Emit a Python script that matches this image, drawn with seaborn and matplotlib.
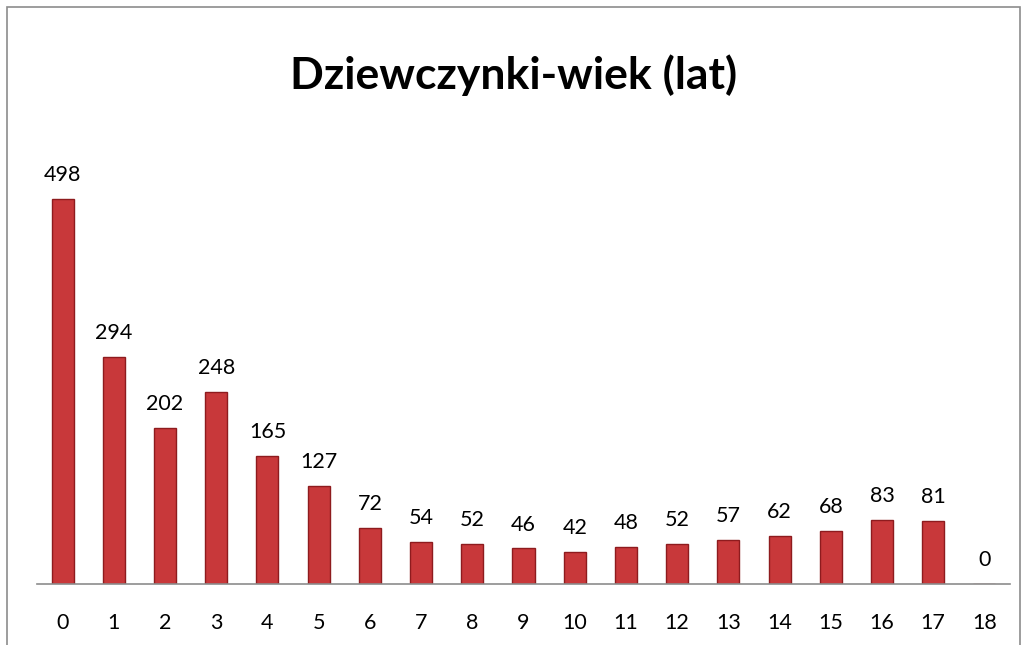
import seaborn as sns
import matplotlib.pyplot as plt
import matplotlib.patches as patches
import pandas as pd

ages = [str(i) for i in range(19)]
counts = [498, 294, 202, 248, 165, 127, 72, 54, 52, 46, 42, 48, 52, 57, 62, 68, 83, 81, 0]

df = pd.DataFrame({'wiek': ages, 'liczba': counts})

sns.set_style('white')
plt.rcParams['font.family'] = ['Lato', 'DejaVu Sans']
plt.rcParams['text.color'] = 'black'
plt.rcParams['xtick.color'] = 'black'

fig = plt.figure(figsize=(10.27, 6.45), dpi=100)
ax = fig.add_axes([37 / 1027, 61 / 645, 973 / 1027, 464 / 645])

sns.barplot(data=df, x='wiek', y='liczba', color='#C8383A', width=0.43,
            edgecolor='#8E1B1E', linewidth=1, saturation=1, ax=ax)

for i, v in enumerate(counts):
    ax.text(i, v + 18, str(v), ha='center', va='bottom', fontsize=15.5)

ax.set_ylim(0, 600)
ax.set_xlim(-0.5, 18.5)
ax.set_xlabel('')
ax.set_ylabel('')
ax.set_yticks([])
ax.tick_params(axis='x', length=0, labelsize=15.5, pad=21)
for s in ['top', 'right', 'left']:
    ax.spines[s].set_visible(False)
ax.spines['bottom'].set_color('#8C8C8C')
ax.spines['bottom'].set_linewidth(1.2)

fig.text(0.5, 1 - 75 / 645, 'Dziewczynki-wiek (lat)', ha='center', va='center',
         fontsize=32, fontweight='bold')

border = patches.Rectangle((7 / 1027, -0.1), 1013 / 1027, 1.1 - 7 / 645,
                           transform=fig.transFigure, fill=False,
                           edgecolor='#8C8C8C', linewidth=1.2)
fig.patches.append(border)

plt.savefig('out.png', dpi=100)
